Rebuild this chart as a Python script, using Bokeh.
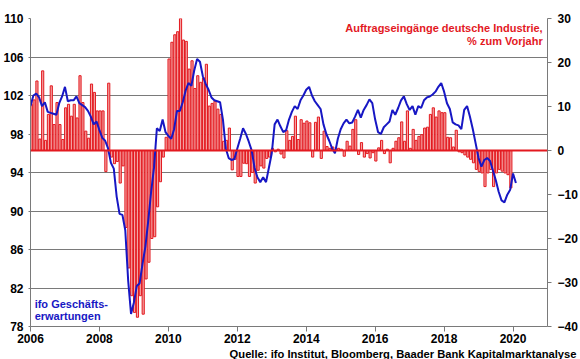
import numpy as np
from bokeh.plotting import figure
from bokeh.models import Range1d, LinearAxis, FixedTicker, Span, Label, Title
from bokeh.embed import file_html
from bokeh.resources import INLINE

# Auftragseingänge deutsche Industrie, % yoy (monthly, Jan 2006 - Dec 2019)
orders_yoy = [
    10.5, 11.5, 15.8, 2.6, 18.1, 2.3, 8.2, 14.7, 5.9, 10.9, 5.9, 2.5,
    9.7, 10.5, 7.8, 10.5, 7.4, 17.0, 10.9, 4.4, 2.8, 15.1, 13.2, 9.0,
    9.0, 9.0, -4.8, 15.3, -1.5, -3.0, -2.5, -7.4, -3.5, -17.5, -26.7, -33.0,
    -36.8, -37.9, -33.0, -37.2, -29.2, -25.4, -20.0, -19.6, -12.8, -7.1, -1.5, 3.0,
    20.8, 24.6, 26.3, 27.0, 30.0, 25.1, 24.8, 18.5, 20.4, 14.1, 17.0, 15.5,
    16.5, 19.6, 10.1, 10.7, 11.2, 9.4, 8.2, 2.1, 2.3, 5.1, -4.4, -2.0,
    -5.9, -5.9, -2.9, -3.0, -5.9, -5.0, -7.4, -4.5, -3.5, -4.0, -1.8, -1.5,
    0.5, -0.3, 0.3, -0.8, -1.7, 4.5, 2.3, 3.2, 7.8, 2.5, 7.0, 6.2,
    6.7, 6.3, -1.5, 6.4, 7.6, -1.8, 4.4, 0.9, 0.5, 0.8, 0.2, 0.5,
    0.3, -1.3, 2.1, 1.0, 4.8, 7.0, -0.9, 1.8, -1.5, -0.7, -1.7, -0.5,
    -2.4, 0.6, 2.3, -0.7, 0.3, -2.8, 0.5, 2.1, 2.9, 6.5, 2.1, 9.0,
    0.5, 4.8, 2.3, 3.2, 3.6, 5.1, 5.3, 8.2, 9.7, 7.6, 9.0, 8.6,
    8.6, 3.0, 2.9, 0.8, 4.6, -0.3, -0.5, -1.0, -1.5, -2.0, -2.8, -4.3,
    -4.8, -5.1, -8.2, -5.1, -4.3, -8.2, -5.1, -4.3, -4.7, -5.1, -5.5, -8.5,
]

# ifo Geschäftserwartungen (monthly, Jan 2006 - Feb 2020)
ifo_expect = [
    100.9, 102.0, 102.2, 101.8, 100.9, 101.3, 100.3, 100.2, 100.1, 100.0, 101.2, 101.9,
    102.9, 101.4, 101.5, 101.5, 101.9, 101.2, 101.0, 100.8, 100.4, 99.8, 99.0, 99.3,
    98.4, 97.6, 97.3, 96.5, 95.0, 94.4, 91.5, 89.7, 89.6, 88.0, 82.8, 79.3,
    80.5, 82.2, 82.5, 84.5, 86.3, 89.0, 92.0, 94.5, 98.6, 98.3, 99.5, 98.2,
    97.8, 97.5, 98.5, 100.4, 100.4, 101.3, 102.5, 103.3, 103.0, 104.6, 105.8, 105.5,
    104.0, 103.2, 102.6, 101.8, 101.5, 101.4, 101.3, 99.5, 96.5, 95.5, 95.3, 95.4,
    96.5, 97.5, 98.6, 98.0, 97.2, 96.3, 94.5, 93.5, 93.0, 93.5, 93.0, 94.5,
    96.0, 99.0, 99.5, 98.8, 98.2, 98.4, 99.5, 100.3, 100.9, 100.6, 101.5, 102.0,
    102.6, 102.9, 102.0, 101.4, 101.0, 100.6, 99.0, 98.0, 97.3, 96.5, 96.0, 97.5,
    98.5, 99.1, 99.5, 99.1, 99.2, 99.8, 100.5, 99.7, 100.5, 101.0, 101.6, 101.2,
    99.5, 98.2, 98.0, 98.7, 99.0, 99.3, 100.5, 100.0, 100.7, 101.5, 101.9, 101.1,
    100.5, 100.9, 100.0, 100.9, 100.7, 101.5, 101.8, 101.9, 102.1, 102.4, 102.9, 103.3,
    102.4, 101.2, 100.6, 99.2, 99.0, 98.9, 98.5, 100.5, 100.9, 99.8, 98.5, 97.0,
    95.5, 94.6, 95.3, 95.5, 95.2, 94.2, 93.2, 92.0, 91.1, 90.9, 91.7, 92.2,
    93.9, 92.9,
]

x_ticks = [2006, 2008, 2010, 2012, 2014, 2016, 2018, 2020]
left_ticks = [78, 82, 86, 90, 94, 98, 102, 106, 110]
right_ticks = [-40, -30, -20, -10, 0, 10, 20, 30]

start_year = 2006
orders_x = start_year + np.arange(len(orders_yoy)) / 12 + 0.02
ifo_x = start_year + np.arange(len(ifo_expect)) / 12 + 0.0

RED = "#E3191F"
BLUE = "#1717C4"
GRID = "#7a7a7a"
FONT = "Liberation Sans"

p = figure(width=580, height=359, x_range=Range1d(2006, 2021), y_range=Range1d(78, 110),
           output_backend="svg", toolbar_location=None,
           min_border_left=30, min_border_right=32, min_border_top=18, min_border_bottom=20)
p.outline_line_color = None
p.background_fill_color = "white"
p.border_fill_color = "white"

p.extra_y_ranges = {"r": Range1d(-40, 30)}

# axes
p.xaxis.ticker = FixedTicker(ticks=x_ticks)
p.yaxis.ticker = FixedTicker(ticks=left_ticks)
for ax in (p.xaxis[0], p.yaxis[0]):
    ax.axis_line_color = GRID
    ax.major_tick_line_color = GRID
    ax.minor_tick_line_color = None
    ax.major_label_text_font = FONT
    ax.major_label_text_font_style = "bold"
    ax.major_label_text_font_size = "12px"
    ax.major_label_text_color = "black"
p.xaxis.major_tick_out = 5
p.xaxis.major_tick_in = 0
p.xaxis.major_label_standoff = 2
p.yaxis.major_tick_out = 2
p.yaxis.major_tick_in = 0
p.yaxis.major_label_standoff = 5

rax = LinearAxis(y_range_name="r", ticker=FixedTicker(ticks=right_ticks))
rax.axis_line_color = GRID
rax.major_tick_line_color = GRID
rax.minor_tick_line_color = None
rax.major_tick_out = 4
rax.major_tick_in = 0
rax.major_label_standoff = 6
rax.major_label_text_font = FONT
rax.major_label_text_font_style = "bold"
rax.major_label_text_font_size = "12px"
rax.major_label_text_color = "black"
p.add_layout(rax, "right")

p.xgrid.grid_line_color = None
p.ygrid.ticker = FixedTicker(ticks=left_ticks)
p.ygrid.grid_line_color = GRID
p.ygrid.grid_line_width = 1

# bars
p.vbar(x=orders_x, top=orders_yoy, bottom=0, width=0.75 / 12, y_range_name="r",
       fill_color="#F4A3A3", line_color=RED, line_width=1)

# zero line
p.add_layout(Span(location=0, dimension="width", y_range_name="r",
                  line_color=RED, line_width=2))

# ifo line
p.line(ifo_x, ifo_expect, line_color=BLUE, line_width=2)

# annotations
lab_kw = dict(text_font=FONT, text_font_style="bold", text_font_size="11px")
p.add_layout(Label(x=2020.86, y=109.05, text="Auftragseingänge deutsche Industrie,",
                   text_align="right", text_baseline="middle", text_color=RED, **lab_kw))
p.add_layout(Label(x=2020.86, y=107.7, text="% zum Vorjahr",
                   text_align="right", text_baseline="middle", text_color=RED, **lab_kw))
p.add_layout(Label(x=2006.12, y=80.33, text="ifo Geschäfts-",
                   text_align="left", text_baseline="middle", text_color=BLUE, **lab_kw))
p.add_layout(Label(x=2006.12, y=79.12, text="erwartungen",
                   text_align="left", text_baseline="middle", text_color=BLUE, **lab_kw))

src = Title(text="Quelle: ifo Institut, Bloomberg, Baader Bank Kapitalmarktanalyse",
            align="right", offset=-29, standoff=0, text_font=FONT, text_font_style="bold",
            text_font_size="11.2px", text_color="black")
p.add_layout(src, "below")

open("out.html", "w").write(file_html(p, INLINE))
